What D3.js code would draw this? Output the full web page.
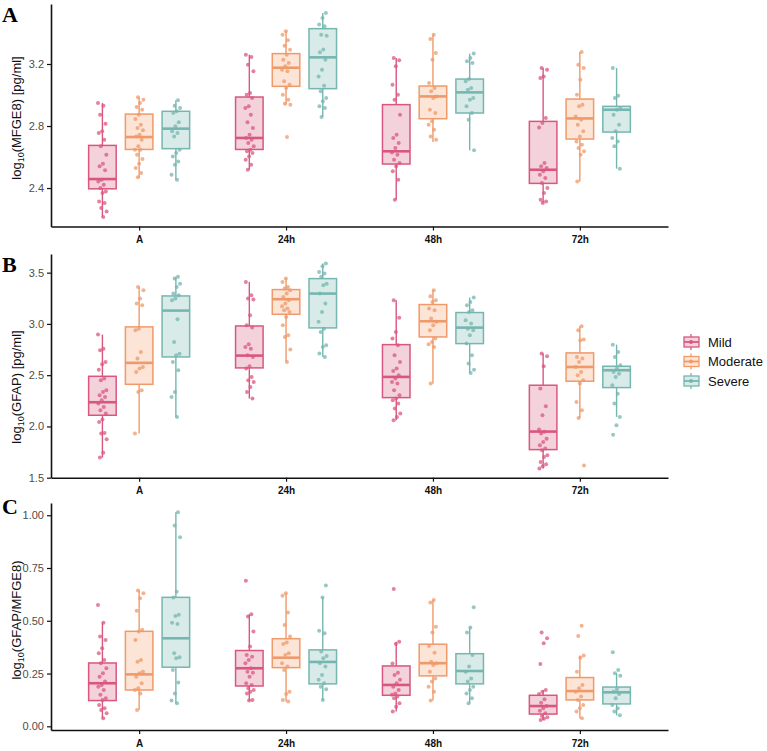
<!DOCTYPE html>
<html>
<head>
<meta charset="utf-8">
<title>Biomarker boxplots</title>
<script src="https://d3js.org/d3.v7.min.js"></script>
<style>
  body { margin: 0; background: #fff; }
  svg { font-family: "Liberation Sans", Arial, sans-serif; }
</style>
</head>
<body>
<script>
// categories
var timepoints = ["A", "24h", "48h", "72h"];
var severities = ["Mild", "Moderate", "Severe"];
var strokeColors = ["#d9577f", "#ef9a6a", "#76b6b0"];
var fillColors = ["#f3d2dc", "#fce4d6", "#d9ebe9"];

// box stats [lower whisker, q1, median, q3, upper whisker], order: time x severity
var mfgeStats = [
  [2.213, 2.395, 2.458, 2.675, 2.948], [2.465, 2.649, 2.729, 2.877, 2.985], [2.454, 2.654, 2.783, 2.895, 2.966],
  [2.518, 2.649, 2.723, 2.987, 3.260], [2.938, 3.056, 3.176, 3.267, 3.411], [2.858, 3.041, 3.243, 3.428, 3.529],
  [2.325, 2.555, 2.637, 2.938, 3.239], [2.697, 2.847, 2.991, 3.058, 3.389], [2.643, 2.884, 3.017, 3.103, 3.267],
  [2.303, 2.430, 2.518, 2.830, 3.174], [2.443, 2.716, 2.849, 2.974, 3.277], [2.525, 2.761, 2.905, 2.927, 3.174]
];
var mfgePoints = [
  [2.948, 2.931, 2.873, 2.815, 2.766, 2.755, 2.712, 2.669, 2.615, 2.557, 2.540, 2.514, 2.454, 2.443, 2.422, 2.400, 2.378, 2.368, 2.314, 2.303, 2.271, 2.249, 2.213],
  [2.985, 2.970, 2.948, 2.923, 2.905, 2.873, 2.845, 2.809, 2.787, 2.772, 2.744, 2.733, 2.712, 2.669, 2.647, 2.647, 2.615, 2.587, 2.557, 2.529, 2.497, 2.469],
  [2.966, 2.931, 2.916, 2.895, 2.884, 2.824, 2.798, 2.766, 2.755, 2.733, 2.647, 2.626, 2.604, 2.572, 2.551, 2.486, 2.454],
  [3.260, 3.245, 3.196, 3.153, 3.013, 3.002, 2.981, 2.927, 2.916, 2.873, 2.824, 2.787, 2.744, 2.723, 2.712, 2.690, 2.669, 2.647, 2.637, 2.626, 2.604, 2.583, 2.551, 2.518],
  [3.411, 3.389, 3.353, 3.318, 3.292, 3.260, 3.228, 3.206, 3.185, 3.163, 3.153, 3.088, 3.067, 3.045, 3.002, 2.970, 2.944, 2.938, 2.729],
  [3.529, 3.497, 3.454, 3.443, 3.389, 3.383, 3.293, 3.276, 3.228, 3.163, 3.120, 3.060, 3.024, 2.981, 2.959, 2.927, 2.916, 2.858],
  [3.239, 3.224, 3.185, 3.067, 3.002, 2.970, 2.873, 2.744, 2.723, 2.690, 2.658, 2.630, 2.615, 2.583, 2.562, 2.540, 2.508, 2.454, 2.325],
  [3.389, 3.361, 3.271, 3.228, 3.077, 3.045, 3.024, 2.991, 2.981, 2.905, 2.884, 2.830, 2.809, 2.776, 2.733, 2.712],
  [3.267, 3.239, 3.217, 3.206, 3.103, 3.088, 3.045, 3.034, 2.981, 2.970, 2.927, 2.884, 2.841, 2.643],
  [3.174, 3.163, 3.120, 3.110, 2.851, 2.819, 2.791, 2.561, 2.540, 2.529, 2.508, 2.486, 2.465, 2.433, 2.400, 2.368, 2.325, 2.314, 2.303],
  [3.277, 3.196, 3.174, 3.099, 3.002, 2.938, 2.927, 2.862, 2.841, 2.809, 2.766, 2.733, 2.701, 2.680, 2.658, 2.637, 2.615, 2.443],
  [3.174, 2.996, 2.981, 2.916, 2.905, 2.873, 2.809, 2.766, 2.723, 2.701, 2.669, 2.525]
];

var gfapStats = [
  [1.696, 2.109, 2.236, 2.489, 2.896], [1.930, 2.411, 2.620, 2.971, 3.361], [2.093, 2.678, 3.130, 3.273, 3.459],
  [2.272, 2.571, 2.691, 2.980, 3.410], [2.629, 3.094, 3.241, 3.335, 3.442], [2.678, 2.961, 3.296, 3.442, 3.589],
  [2.060, 2.281, 2.483, 2.798, 3.231], [2.418, 2.873, 3.026, 3.189, 3.328], [2.522, 2.808, 2.964, 3.111, 3.257],
  [1.589, 1.774, 1.950, 2.402, 2.711], [2.083, 2.441, 2.580, 2.717, 2.977], [2.093, 2.379, 2.548, 2.587, 2.798]
];
var gfapPoints = [
  [2.896, 2.759, 2.743, 2.629, 2.607, 2.554, 2.467, 2.450, 2.353, 2.337, 2.304, 2.288, 2.255, 2.223, 2.190, 2.158, 2.125, 2.067, 2.044, 1.937, 1.931, 1.876, 1.743, 1.696],
  [3.361, 3.328, 3.247, 3.198, 3.182, 2.954, 2.938, 2.727, 2.662, 2.580, 2.564, 2.532, 2.353, 2.337, 1.930],
  [3.459, 3.442, 3.393, 3.361, 3.296, 3.280, 3.247, 3.231, 3.046, 2.824, 2.710, 2.694, 2.629, 2.548, 2.337, 2.288, 2.093],
  [3.410, 3.280, 3.247, 3.237, 3.085, 2.987, 2.964, 2.802, 2.776, 2.759, 2.694, 2.678, 2.587, 2.564, 2.483, 2.450, 2.434, 2.385, 2.337, 2.272],
  [3.442, 3.410, 3.361, 3.345, 3.328, 3.296, 3.263, 3.231, 3.198, 3.172, 3.150, 3.133, 3.117, 3.068, 2.987, 2.889, 2.873, 2.750, 2.629],
  [3.589, 3.563, 3.507, 3.491, 3.459, 3.393, 3.377, 3.296, 3.198, 3.117, 3.020, 2.954, 2.922, 2.792, 2.776, 2.711, 2.678],
  [3.231, 3.059, 2.922, 2.857, 2.792, 2.694, 2.629, 2.564, 2.541, 2.499, 2.467, 2.434, 2.418, 2.353, 2.304, 2.272, 2.255, 2.223, 2.174, 2.125, 2.093, 2.060],
  [3.328, 3.270, 3.231, 3.215, 3.150, 3.133, 3.052, 3.020, 2.987, 2.938, 2.857, 2.824, 2.802, 2.776, 2.418],
  [3.257, 3.215, 3.182, 3.133, 3.117, 3.036, 3.003, 2.954, 2.938, 2.889, 2.808, 2.694, 2.613, 2.554, 2.522],
  [2.711, 2.685, 2.587, 2.369, 2.197, 2.109, 1.970, 1.947, 1.930, 1.881, 1.849, 1.816, 1.784, 1.768, 1.719, 1.703, 1.654, 1.631, 1.612, 1.589],
  [2.977, 2.938, 2.847, 2.841, 2.678, 2.662, 2.629, 2.580, 2.531, 2.499, 2.450, 2.418, 2.239, 2.158, 2.083, 1.618],
  [2.798, 2.727, 2.678, 2.597, 2.564, 2.532, 2.515, 2.483, 2.402, 2.320, 2.223, 2.093, 2.011, 1.920]
];

var ratioStats = [
  [0.038, 0.122, 0.204, 0.300, 0.491], [0.077, 0.172, 0.246, 0.450, 0.643], [0.109, 0.280, 0.417, 0.611, 1.014],
  [0.122, 0.191, 0.275, 0.359, 0.531], [0.117, 0.278, 0.325, 0.415, 0.630], [0.125, 0.201, 0.305, 0.362, 0.610],
  [0.070, 0.147, 0.196, 0.286, 0.401], [0.122, 0.239, 0.299, 0.389, 0.599], [0.109, 0.201, 0.262, 0.344, 0.468],
  [0.030, 0.058, 0.096, 0.147, 0.172], [0.038, 0.125, 0.167, 0.231, 0.335], [0.052, 0.106, 0.161, 0.186, 0.251]
];
var ratioPoints = [
  [0.575, 0.491, 0.425, 0.409, 0.370, 0.346, 0.314, 0.299, 0.275, 0.251, 0.235, 0.212, 0.196, 0.188, 0.172, 0.149, 0.133, 0.125, 0.101, 0.085, 0.077, 0.062, 0.038],
  [0.643, 0.630, 0.607, 0.548, 0.457, 0.449, 0.409, 0.314, 0.306, 0.259, 0.251, 0.235, 0.204, 0.180, 0.172, 0.156, 0.077],
  [1.014, 0.951, 0.896, 0.638, 0.610, 0.528, 0.523, 0.491, 0.485, 0.346, 0.327, 0.322, 0.267, 0.207, 0.156, 0.122, 0.109],
  [0.690, 0.531, 0.520, 0.449, 0.378, 0.338, 0.330, 0.314, 0.299, 0.275, 0.259, 0.254, 0.235, 0.204, 0.196, 0.180, 0.172, 0.164, 0.156, 0.125, 0.122],
  [0.630, 0.618, 0.539, 0.480, 0.425, 0.397, 0.390, 0.346, 0.338, 0.299, 0.283, 0.267, 0.164, 0.153, 0.125, 0.117],
  [0.667, 0.610, 0.453, 0.441, 0.354, 0.333, 0.322, 0.299, 0.283, 0.243, 0.220, 0.204, 0.188, 0.175, 0.125],
  [0.651, 0.401, 0.390, 0.297, 0.254, 0.243, 0.220, 0.204, 0.188, 0.172, 0.156, 0.149, 0.141, 0.133, 0.109, 0.093, 0.070],
  [0.599, 0.586, 0.472, 0.444, 0.381, 0.349, 0.306, 0.299, 0.291, 0.259, 0.227, 0.212, 0.188, 0.164, 0.122],
  [0.564, 0.468, 0.444, 0.338, 0.283, 0.259, 0.227, 0.212, 0.188, 0.172, 0.156, 0.133, 0.109],
  [0.444, 0.417, 0.393, 0.295, 0.172, 0.164, 0.153, 0.128, 0.112, 0.096, 0.085, 0.074, 0.062, 0.049, 0.043, 0.036, 0.030],
  [0.476, 0.428, 0.335, 0.325, 0.259, 0.196, 0.180, 0.164, 0.141, 0.125, 0.101, 0.085, 0.070, 0.038],
  [0.351, 0.267, 0.251, 0.239, 0.175, 0.164, 0.153, 0.133, 0.101, 0.085, 0.070, 0.052]
];

var mfgeTicks = [2.4, 2.8, 3.2];
var gfapTicks = [1.5, 2.0, 2.5, 3.0, 3.5];
var ratioTicks = [0, 0.25, 0.5, 0.75, 1.0];

var svg = d3.select("body").append("svg")
    .attr("width", 767)
    .attr("height", 751);

var x = d3.scalePoint()
    .domain(timepoints)
    .range([51, 668])
    .padding(0.6);
var step = x.step();
var xSub = d3.scaleBand()
    .domain(severities)
    .range([-0.375 * step, 0.375 * step]);
var boxW = xSub.bandwidth() * 0.75;

// panel layout
var panels = [
    {letter: "A", stats: mfgeStats, points: mfgePoints, ticks: mfgeTicks, fmt: ".1f",
     domain: [2.152, 3.587], top: 4, bottom: 226.5, unit: "(MFGE8) [pg/ml]", labelY: 118, letterY: 22},
    {letter: "B", stats: gfapStats, points: gfapPoints, ticks: gfapTicks, fmt: ".1f",
     domain: [1.5, 3.682], top: 254, bottom: 477.7, unit: "(GFAP) [pg/ml]", labelY: 387, letterY: 272},
    {letter: "C", stats: ratioStats, points: ratioPoints, ticks: ratioTicks, fmt: ".2f",
     domain: [-0.0175, 1.058], top: 503, bottom: 730, unit: "(GFAP/MFGE8)", labelY: 620, letterY: 514}
];

panels.forEach(function(p) {
    var y = d3.scaleLinear().domain(p.domain).range([p.bottom, p.top]);
    var g = svg.append("g");

    // boxes
    p.stats.forEach(function(s, k) {
        var ti = Math.floor(k / 3), si = k % 3;
        var cx = x(timepoints[ti]) + xSub(severities[si]) + xSub.bandwidth() / 2;
        var bg = g.append("g");
        bg.append("line")
            .attr("x1", cx).attr("x2", cx)
            .attr("y1", y(s[0])).attr("y2", y(s[4]))
            .attr("stroke", strokeColors[si]).attr("stroke-width", 1.4);
        bg.append("rect")
            .attr("x", cx - boxW / 2).attr("width", boxW)
            .attr("y", y(s[3])).attr("height", y(s[1]) - y(s[3]))
            .attr("fill", fillColors[si])
            .attr("stroke", strokeColors[si]).attr("stroke-width", 1.5);
        bg.append("line")
            .attr("x1", cx - boxW / 2).attr("x2", cx + boxW / 2)
            .attr("y1", y(s[2])).attr("y2", y(s[2]))
            .attr("stroke", strokeColors[si]).attr("stroke-width", 2.6);

        // jittered points (deterministic spread)
        bg.selectAll("circle")
            .data(p.points[k])
            .enter()
            .append("circle")
            .attr("cx", function(d, i) { return cx + (((i * 0.618034 + k * 0.37) % 1) - 0.5) * boxW * 0.32; })
            .attr("cy", function(d) { return y(d); })
            .attr("r", 2)
            .attr("fill", strokeColors[si])
            .attr("fill-opacity", 0.75);
    });

    // y axis
    var ya = g.append("g")
        .attr("transform", "translate(51,0)")
        .call(d3.axisLeft(y).tickValues(p.ticks).tickFormat(d3.format(p.fmt)).tickSize(4).tickSizeOuter(0))
        .attr("font-family", null);
    ya.select(".domain").attr("stroke", "#111").attr("stroke-width", 1.6);
    ya.selectAll(".tick line").attr("stroke", "#111").attr("stroke-width", 1.2);
    ya.selectAll(".tick text").attr("fill", "#4d4d4d").style("font-size", "11px");

    // x axis
    var xa = g.append("g")
        .attr("transform", "translate(0," + p.bottom + ")")
        .call(d3.axisBottom(x).tickSize(4).tickSizeOuter(0))
        .attr("font-family", null);
    xa.select(".domain").attr("stroke", "#111").attr("stroke-width", 1.6);
    xa.selectAll(".tick line").attr("stroke", "#111").attr("stroke-width", 1.2);
    xa.selectAll(".tick text").attr("fill", "#111").attr("dy", "0.95em")
        .style("font-size", "10px").style("font-weight", "bold");

    // y title with subscript, centred by its measured length
    var t = g.append("text")
        .attr("text-anchor", "start")
        .attr("fill", "#111")
        .style("font-size", "13px");
    t.append("tspan").text("log");
    t.append("tspan").attr("dy", 3).style("font-size", "9px").text("10");
    t.append("tspan").attr("dy", -3).text(p.unit);
    var len = t.node().getComputedTextLength();
    t.attr("transform", "translate(21," + (p.labelY + len / 2) + ") rotate(-90)");

    // panel letter
    g.append("text")
        .attr("x", 2).attr("y", p.letterY)
        .attr("fill", "#000")
        .style("font-family", "'Liberation Serif', 'DejaVu Serif', serif")
        .style("font-weight", "bold")
        .style("font-size", "22px")
        .text(p.letter);
});

// legend
var legend = svg.append("g").attr("transform", "translate(683,342)");
severities.forEach(function(s, i) {
    var lg = legend.append("g").attr("transform", "translate(0," + (i * 19.5) + ")");
    lg.append("line").attr("x1", 8).attr("x2", 8).attr("y1", -8).attr("y2", 8)
        .attr("stroke", strokeColors[i]).attr("stroke-width", 1.3);
    lg.append("rect").attr("x", 1).attr("y", -5).attr("width", 15).attr("height", 10)
        .attr("fill", fillColors[i]).attr("stroke", strokeColors[i]).attr("stroke-width", 1.3);
    lg.append("line").attr("x1", 1).attr("x2", 16).attr("y1", 0).attr("y2", 0)
        .attr("stroke", strokeColors[i]).attr("stroke-width", 1.8);
    lg.append("circle").attr("cx", 8).attr("cy", 0).attr("r", 2)
        .attr("fill", strokeColors[i]);
    lg.append("text").attr("x", 25).attr("y", 0).attr("dy", "0.36em")
        .attr("fill", "#111").style("font-size", "13px").text(s);
});
</script>
</body>
</html>
